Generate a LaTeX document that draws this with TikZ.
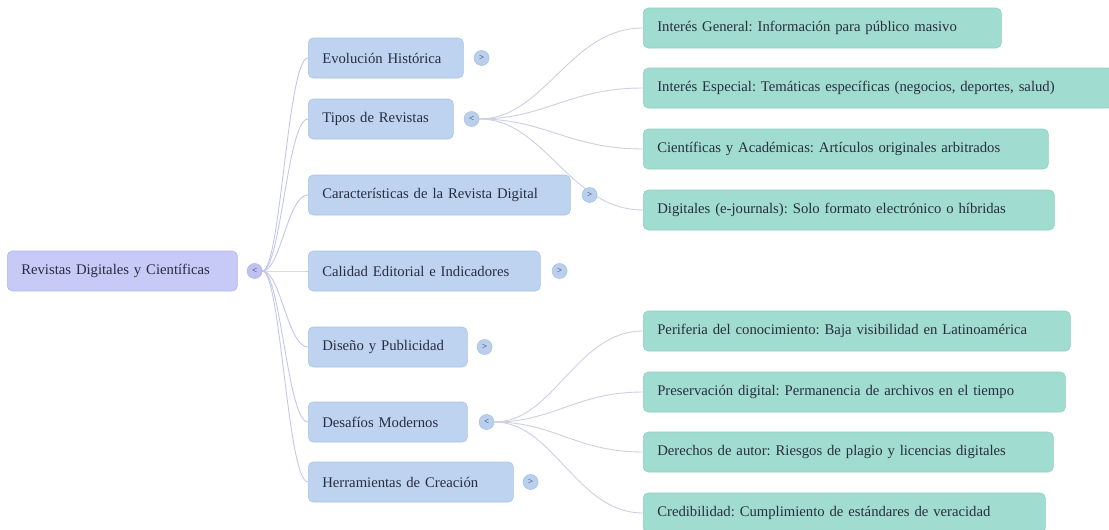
\documentclass[tikz,border=0pt]{standalone}
\usepackage{fontspec}
\setmainfont{Liberation Serif}
\usetikzlibrary{calc}
\pgfdeclarelayer{background}
\pgfsetlayers{background,main}
\definecolor{rootfill}{HTML}{C7C9F6}
\definecolor{rootdraw}{HTML}{B3B6EE}
\definecolor{lonefill}{HTML}{BDD3F0}
\definecolor{lonedraw}{HTML}{A9C3E6}
\definecolor{ltwofill}{HTML}{A0DCCF}
\definecolor{ltwodraw}{HTML}{8ED0C1}
\definecolor{txt}{HTML}{2A2D40}
\definecolor{linkone}{HTML}{C4C6EE}
\definecolor{linktwo}{HTML}{CDCFE2}
\definecolor{rtog}{HTML}{BFC2F1}
\definecolor{ltog}{HTML}{BACFEE}
\frenchspacing
\newcommand{\mmlink}[3]{%
  \draw[#3] let \p1=(#1.east), \p2=(#2.west) in
    (\p1) .. controls ({\x1+0.4*(\x2-\x1)},\y1) and ({\x1+0.55*(\x2-\x1)},\y2) .. (\p2);}
\begin{document}
\begin{tikzpicture}[x=1pt,y=-1pt,
  box/.style={rounded corners=5pt, minimum height=40pt, anchor=west, inner xsep=14pt,
    align=left, font=\fontsize{14.7}{16}\selectfont, text=txt, line width=0.6pt},
  rootbox/.style={box, fill=rootfill, draw=rootdraw},
  lvone/.style={box, fill=lonefill, draw=lonedraw},
  lvtwo/.style={box, fill=ltwofill, draw=ltwodraw},
  toggle/.style={circle, minimum size=15pt, inner sep=0pt, line width=0.6pt,
    font=\fontsize{9}{9}\selectfont, text=txt},
  rtoggle/.style={toggle, fill=rtog, draw=rootdraw},
  ltoggle/.style={toggle, fill=ltog, draw=lonedraw},
  lka/.style={draw=linkone, line width=0.9pt},
  lkb/.style={draw=linktwo, line width=0.9pt}]
\useasboundingbox (0,0) rectangle (1109,530);
\clip (0,0) rectangle (1109,530);

% root
\node[rootbox, text width=202pt] (root) at (7,271) {Revistas Digitales y Científicas};
\node[rtoggle] (rc) at ($(root.east)+(17,0)$) {\textless};

% level 1
\node[lvone, text width=127pt] (evo) at (308,58) {Evolución Histórica};
\node[lvone, text width=117pt] (tip) at (308,119) {Tipos de Revistas};
\node[lvone, text width=234pt] (car) at (308,195) {Características de la Revista Digital};
\node[lvone, text width=204pt] (cal) at (308,271) {Calidad Editorial e Indicadores};
\node[lvone, text width=131pt] (dis) at (308,347) {Diseño y Publicidad};
\node[lvone, text width=131pt] (des) at (308,422) {Desafíos Modernos};
\node[lvone, text width=177pt] (her) at (308,482) {Herramientas de Creación};

\node[ltoggle] (evot) at ($(evo.east)+(18,0)$) {\textgreater};
\node[ltoggle] (tipt) at ($(tip.east)+(18,0)$) {\textless};
\node[ltoggle] (cart) at ($(car.east)+(19,0)$) {\textgreater};
\node[ltoggle] (calt) at ($(cal.east)+(19,0)$) {\textgreater};
\node[ltoggle] (dist) at ($(dis.east)+(17,0)$) {\textgreater};
\node[ltoggle] (dest) at ($(des.east)+(19,0)$) {\textless};
\node[ltoggle] (hert) at ($(her.east)+(17,0)$) {\textgreater};

% level 2
\node[lvtwo, text width=330pt] (ia) at (643,28) {Interés General: Información para público masivo};
\node[lvtwo, text width=442pt] (ib) at (643,88) {Interés Especial: Temáticas específicas (negocios, deportes, salud)};
\node[lvtwo, text width=377pt] (ic) at (643,149) {Científicas y Académicas: Artículos originales arbitrados};
\node[lvtwo, text width=383pt] (id) at (643,210) {Digitales (e-journals): Solo formato electrónico o híbridas};
\node[lvtwo, text width=399pt] (da) at (643,331) {Periferia del conocimiento: Baja visibilidad en Latinoamérica};
\node[lvtwo, text width=394pt] (db) at (643,392) {Preservación digital: Permanencia de archivos en el tiempo};
\node[lvtwo, text width=382pt] (dc) at (643,452) {Derechos de autor: Riesgos de plagio y licencias digitales};
\node[lvtwo, text width=374pt] (dd) at (643,513) {Credibilidad: Cumplimiento de estándares de veracidad};

\begin{pgfonlayer}{background}
\foreach \nd in {evo,tip,car,cal,dis,des,her}{\mmlink{rc}{\nd}{lka}}
\foreach \nd in {ia,ib,ic,id}{\mmlink{tipt}{\nd}{lkb}}
\foreach \nd in {da,db,dc,dd}{\mmlink{dest}{\nd}{lkb}}
\end{pgfonlayer}
\end{tikzpicture}
\end{document}
